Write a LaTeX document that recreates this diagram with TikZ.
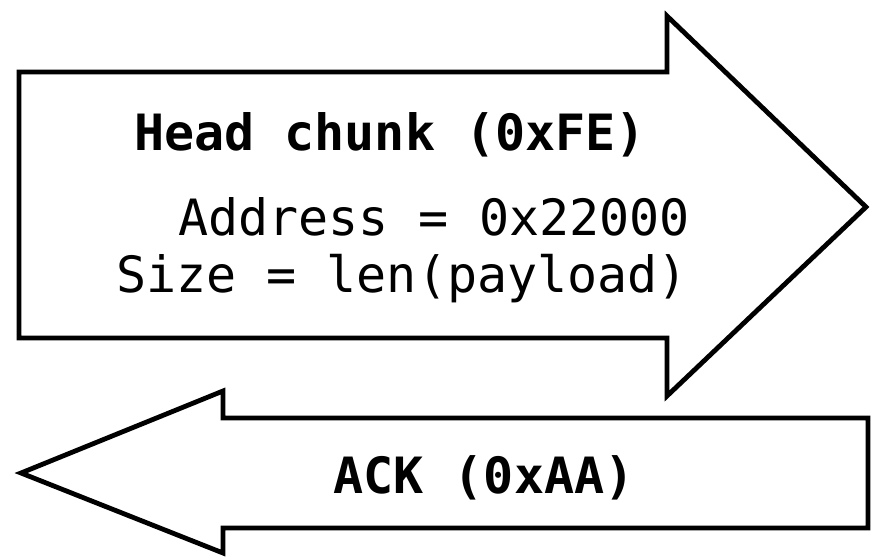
\documentclass[tikz,border=0pt]{standalone}
\usepackage{fontspec}
\setmonofont{DejaVu Sans Mono}
\tikzset{
  arrowshape/.style={draw=black, line width=4.8pt, fill=white, line join=miter, miter limit=20},
  lbl/.style={font=\ttfamily\fontsize{50}{60}\selectfont, inner sep=0pt, anchor=base},
  blbl/.style={lbl, font=\ttfamily\bfseries\fontsize{50}{60}\selectfont}
}
\begin{document}
\begin{tikzpicture}[x=1pt, y=-1pt]
\useasboundingbox (0,0) rectangle (871,557);
% top arrow (to the right)
\draw[arrowshape] (19,72) -- (667,72) -- (667,16) -- (866,207) -- (667,396) -- (667,338) -- (19,338) -- cycle;
% bottom arrow (to the left)
\draw[arrowshape] (868,418) -- (223,418) -- (223,391) -- (21,473) -- (223,553) -- (223,528) -- (868,528) -- cycle;
\node[blbl] (head) at (390,150) {Head chunk (0xFE)};
\node[lbl] (addr) at (434,235) {Address = 0x22000};
\node[lbl] (size) at (402,292) {Size = len(payload)};
\node[blbl] (ack) at (484,493) {ACK (0xAA)};
\end{tikzpicture}
\end{document}
